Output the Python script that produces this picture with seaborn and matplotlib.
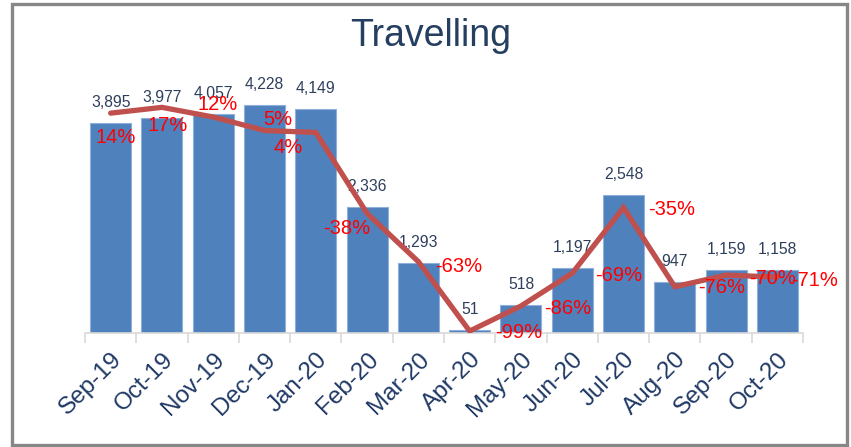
import numpy as np
import pandas as pd
import matplotlib
matplotlib.use("Agg")
import matplotlib.pyplot as plt
from matplotlib.patches import Rectangle
import seaborn as sns

months = ["Sep-19", "Oct-19", "Nov-19", "Dec-19", "Jan-20", "Feb-20", "Mar-20",
          "Apr-20", "May-20", "Jun-20", "Jul-20", "Aug-20", "Sep-20", "Oct-20"]
trips = [3895, 3977, 4057, 4228, 4149, 2336, 1293, 51, 518, 1197, 2548, 947, 1159, 1158]
pct_change = [14, 17, 12, 5, 4, -38, -63, -99, -86, -69, -35, -76, -70, -71]

# label offsets (pixels) for the red % labels, copied from the Excel layout
pct_offsets = [(5, -24), (6, -18), (4, 12), (13, 11), (-28, -15), (-20, -15), (40, -5),
               (49, -1), (47, -3), (46, -2), (48, -2), (47, -1), (46, -3), (37, -3)]

df = pd.DataFrame({"month": months, "trips": trips, "pct": pct_change})

sns.set_theme(style="white")
plt.rcParams["font.family"] = ["Liberation Sans", "DejaVu Sans"]

navy = "#1F3864"
bar_blue = "#4F81BD"
line_red = "#C0504D"

fig = plt.figure(figsize=(8.51, 4.47), dpi=100)
ax = fig.add_axes([85 / 851, (447 - 333) / 447, 718 / 851, 270 / 447])

sns.barplot(data=df, x="month", y="trips", color=bar_blue, saturation=1,
            width=0.8, edgecolor="#8FB0DA", linewidth=0.8, ax=ax)
ax.set_ylim(0, 5000)
ax.set_xlim(-0.5, len(months) - 0.5)

for i, v in enumerate(trips):
    ax.annotate(f"{v:,}", (i, v), xytext=(0, 13), textcoords="offset pixels",
                ha="center", va="bottom", fontsize=11.3, color="#2E3F5C")

ax2 = ax.twinx()
sns.lineplot(x=np.arange(len(months)), y=pct_change, color=line_red,
             linewidth=3.8, ax=ax2, solid_capstyle="round", solid_joinstyle="miter")
ax2.set_ylim(-100, 40)
ax2.set_yticks([])
ax2.set_ylabel("")

for i, (p, off) in enumerate(zip(pct_change, pct_offsets)):
    ax2.annotate(f"{p}%", (i, p), xytext=off, textcoords="offset pixels",
                 ha="center", va="center", fontsize=14.5, color="#FF0000")

ax.set_xlabel("")
ax.set_ylabel("")
ax.set_yticks([])
ax.set_xticks(np.arange(len(months)))
ax.set_xticklabels(months, rotation=45, ha="right", rotation_mode="anchor",
                   fontsize=17.5, color=navy)
ax.set_xticks(np.arange(-0.5, len(months), 1), minor=True)
ax.tick_params(axis="x", which="major", length=0, pad=11)
ax.tick_params(axis="x", which="minor", length=7, width=1.2, color="#D9D9D9",
               direction="out", bottom=True)

for a in (ax, ax2):
    for s in ("top", "left", "right", "bottom"):
        a.spines[s].set_visible(False)
ax.spines["bottom"].set_visible(True)
ax.spines["bottom"].set_color("#D9D9D9")
ax.spines["bottom"].set_linewidth(1.2)

fig.text(431 / 851, 1 - 36 / 447, "Travelling", ha="center", va="center",
         fontsize=27, color="#243F60")

fig.patches.append(Rectangle((12 / 851, 2 / 447), 835 / 851, 441 / 447,
                             transform=fig.transFigure, fill=False,
                             edgecolor="#878787", linewidth=2.4))

fig.savefig("out.png", dpi=100)
plt.close(fig)
